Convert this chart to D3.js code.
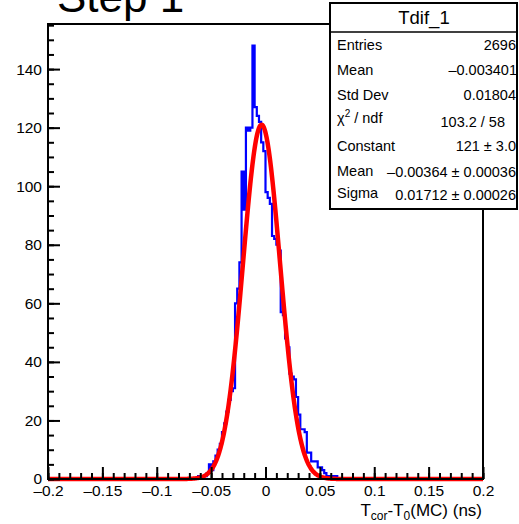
<!DOCTYPE html>
<html>
<head>
<meta charset="utf-8">
<script src="https://cdn.jsdelivr.net/npm/d3@7"></script>
<style>
  body { margin: 0; background: #fff; }
  svg { display: block; font-family: "Liberation Sans", Arial, Helvetica, sans-serif; }
</style>
</head>
<body>
<svg id="chart" width="519" height="524"></svg>
<script>
// Histogram Tdif_1: 200 bins of width 0.002 on [-0.2, 0.2]; bins not listed are empty
const binWidth = 0.002;
const binCenters = [
  -0.063, -0.061, -0.059, -0.057, -0.055, -0.053, -0.051, -0.049, -0.047, -0.045,
  -0.043, -0.041, -0.039, -0.037, -0.035, -0.033, -0.031, -0.029, -0.027, -0.025,
  -0.023, -0.021, -0.019, -0.017, -0.015, -0.013, -0.011, -0.009, -0.007, -0.005,
  -0.003, -0.001, 0.001, 0.003, 0.005, 0.007, 0.009, 0.011, 0.013, 0.015,
  0.017, 0.019, 0.021, 0.023, 0.025, 0.027, 0.029, 0.031, 0.033, 0.035,
  0.037, 0.039, 0.041, 0.043, 0.045, 0.047, 0.049, 0.051, 0.053, 0.055,
  0.057, 0.059, 0.061, 0.063, 0.065
];
const binCounts = [
  0, 1, 0, 1, 1, 2, 5, 3, 6, 8,
  10, 12, 16, 19, 23, 27, 30, 31, 60, 65,
  74, 105, 92, 120, 119, 120, 148, 127, 124, 122,
  115, 112, 98, 96, 94, 83, 82, 80, 78, 57,
  56, 48, 45, 36, 35, 34, 28, 22, 17, 17,
  16, 9, 9, 6, 6, 6, 4, 4, 3, 2,
  1, 1, 1, 0, 1
];

// gaus fit parameters (from the stats box)
const fitConstant = 121, fitMean = -0.00364, fitSigma = 0.01712;

const xTicks = [-0.2, -0.15, -0.1, -0.05, 0, 0.05, 0.1, 0.15, 0.2];
const yTicks = [0, 20, 40, 60, 80, 100, 120, 140];

const statLabels = ["Entries", "Mean", "Std Dev", "chi2", "Constant", "Mean", "Sigma"];
const statValues = ["2696", "\u20130.003401", "0.01804", "103.2 / 58", "121 \u00b1 3.0",
  "\u20130.00364 \u00b1 0.00036", "0.01712 \u00b1 0.00026"];

const frame = { left: 48, right: 483, top: 24, bottom: 479 };

const svg = d3.select("#chart");

const x = d3.scaleLinear().domain([-0.2, 0.2]).range([frame.left, frame.right]);
const y = d3.scaleLinear().domain([0, d3.max(binCounts) * 1.05]).range([frame.bottom, frame.top]);

const dash = v => (v < 0 ? "\u2013" : "") + String(Math.abs(v));

// title, cut by the top of the canvas
svg.append("text")
  .attr("x", 57).attr("y", 12)
  .attr("font-size", 44)
  .text("Step 1");

// histogram as a step outline
const pts = [[-0.2, 0]];
binCenters.forEach((c, i) => pts.push([c - binWidth / 2, binCounts[i]]));
pts.push([binCenters[binCenters.length - 1] + binWidth / 2, 0]);
pts.push([0.2, 0]);

svg.append("path")
  .datum(pts)
  .attr("fill", "none")
  .attr("stroke", "#0000ff")
  .attr("stroke-width", 2.2)
  .attr("d", d3.line().x(d => x(d[0])).y(d => y(d[1])).curve(d3.curveStepAfter));

// fit curve
const fitPts = d3.range(-0.2, 0.2001, 0.0005).map(v =>
  [v, fitConstant * Math.exp(-0.5 * ((v - fitMean) / fitSigma) ** 2)]);
svg.append("path")
  .datum(fitPts)
  .attr("fill", "none")
  .attr("stroke", "#ff0000")
  .attr("stroke-width", 4.5)
  .attr("d", d3.line().x(d => x(d[0])).y(d => y(d[1])));

// axes: minor ticks, then major ticks with labels
const minorX = d3.range(-0.2, 0.2001, 0.01).map(v => +v.toFixed(3));
const minorY = d3.range(0, y.domain()[1], 5);

svg.append("g")
  .attr("transform", `translate(0,${frame.bottom})`)
  .call(d3.axisBottom(x).tickValues(minorX).tickSize(-6).tickFormat(""));
svg.append("g")
  .attr("class", "xaxis")
  .attr("transform", `translate(0,${frame.bottom})`)
  .call(d3.axisBottom(x).tickValues(xTicks).tickSize(-12).tickPadding(6).tickFormat(dash));

svg.append("g")
  .attr("transform", `translate(${frame.left},0)`)
  .call(d3.axisLeft(y).tickValues(minorY).tickSize(-6).tickFormat(""));
svg.append("g")
  .attr("class", "yaxis")
  .attr("transform", `translate(${frame.left},0)`)
  .call(d3.axisLeft(y).tickValues(yTicks).tickSize(-12).tickPadding(6).tickFormat(d3.format("d")));

svg.selectAll(".domain").remove();
svg.selectAll(".tick line").attr("stroke", "#000").attr("stroke-width", 2);
svg.selectAll(".xaxis text, .yaxis text")
  .attr("font-family", "Liberation Sans, Arial, sans-serif")
  .attr("font-size", 15.5)
  .attr("fill", "#000");

// frame
svg.append("rect")
  .attr("x", frame.left).attr("y", frame.top)
  .attr("width", frame.right - frame.left).attr("height", frame.bottom - frame.top)
  .attr("fill", "none").attr("stroke", "#000").attr("stroke-width", 2);

// x axis title
const xt = svg.append("text")
  .attr("x", 482).attr("y", 516)
  .attr("text-anchor", "end")
  .attr("font-size", 17);
xt.append("tspan").text("T");
xt.append("tspan").attr("font-size", 12).attr("dy", 3.5).text("cor");
xt.append("tspan").attr("dy", -3.5).text("-T");
xt.append("tspan").attr("font-size", 12).attr("dy", 3.5).text("0");
xt.append("tspan").attr("dy", -3.5).text("(MC) (ns)");

// stats box
const box = svg.append("g");
box.append("rect")
  .attr("x", 330).attr("y", 3).attr("width", 187).attr("height", 206)
  .attr("fill", "#fff").attr("stroke", "#000").attr("stroke-width", 2);
box.append("line")
  .attr("x1", 330).attr("x2", 517).attr("y1", 32).attr("y2", 32)
  .attr("stroke", "#000").attr("stroke-width", 1.5);
box.append("text")
  .attr("x", 424).attr("y", 24)
  .attr("text-anchor", "middle")
  .attr("font-size", 18.5)
  .text("Tdif_1");

const labelBase = [50, 75, 100, 123, 151, 176, 198];
const valueBase = [50, 75, 100, 127, 151, 177, 200];
const valueRight = [516, 517, 516, 505, 516, 516, 516];

statLabels.forEach((lab, i) => {
  const t = box.append("text")
    .attr("x", 337).attr("y", labelBase[i])
    .attr("font-size", 14.5);
  if (lab === "chi2") {
    t.append("tspan").text("\u03c7");
    t.append("tspan").attr("font-size", 10).attr("dy", -6).text("2");
    t.append("tspan").attr("dy", 6).text(" / ndf");
  } else {
    t.text(lab);
  }
  box.append("text")
    .attr("x", valueRight[i]).attr("y", valueBase[i])
    .attr("text-anchor", "end")
    .attr("font-size", 14.5)
    .text(statValues[i]);
});
</script>
</body>
</html>
